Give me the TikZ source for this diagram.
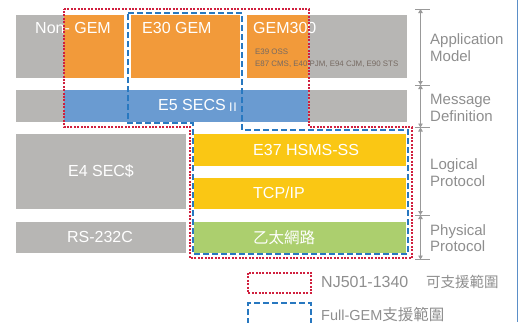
\documentclass[tikz,border=0pt]{standalone}
\usepackage{fontspec}
\setmainfont{Liberation Sans}
\newfontfamily\cjk{Noto Sans CJK TC}
\usetikzlibrary{arrows.meta}
\definecolor{boxgray}{HTML}{B7B6B4}
\definecolor{boxorange}{HTML}{F29A3A}
\definecolor{boxblue}{HTML}{6A9BD1}
\definecolor{boxyellow}{HTML}{FAC714}
\definecolor{boxgreen}{HTML}{ACCF6E}
\definecolor{njred}{HTML}{D0203E}
\definecolor{gemblue}{HTML}{2878C0}
\definecolor{labgray}{HTML}{8E8E8E}
\definecolor{smalltxt}{HTML}{766A62}
\definecolor{edgeblue}{HTML}{5B8FC8}
\tikzset{
  blk/.style={inner sep=0pt, outer sep=0pt, anchor=north west, draw=none},
  wtxt/.style={inner sep=0pt, text=white, font=\fontsize{16}{19}\selectfont},
  rtxt/.style={inner sep=0pt, anchor=base west, text=labgray, font=\fontsize{15}{17}\selectfont},
  smtxt/.style={inner sep=0pt, anchor=base west, text=smalltxt, font=\fontsize{7.9}{9}\selectfont},
  lgtxt/.style={inner sep=0pt, anchor=base west, text=labgray},
  njbox/.style={draw=njred, line width=1.3pt, dash pattern=on 2pt off 1.4pt},
  gembox/.style={draw=gemblue, line width=1.3pt, dash pattern=on 6pt off 3pt},
  brk/.style={draw=labgray!90, line width=0.9pt, {Triangle[length=4pt,width=4.5pt]}-{Triangle[length=4pt,width=4.5pt]}},
  tick/.style={draw=labgray!90, line width=0.9pt}
}
\begin{document}
\begin{tikzpicture}[x=1pt,y=-1pt]
\useasboundingbox (0,0) rectangle (519,322);
% row 1
\node[blk, fill=boxgray, minimum width=48pt, minimum height=63pt] (nggray) at (16,15) {};
\node[blk, fill=boxorange, minimum width=60pt, minimum height=63pt] (ngor) at (64,15) {};
\node[blk, fill=boxorange, minimum width=109pt, minimum height=63pt] (e30) at (131,15) {};
\node[blk, fill=boxgray, minimum width=160pt, minimum height=63pt] (g3gray) at (247,15) {};
\node[blk, fill=boxorange, minimum width=61pt, minimum height=63pt] (g3or) at (247,15) {};
% row 2
\node[blk, fill=boxgray, minimum width=391pt, minimum height=32pt] (msggray) at (16,90) {};
\node[blk, fill=boxblue, minimum width=244pt, minimum height=32pt] (msgblue) at (64,90) {};
% lower rows
\node[blk, fill=boxgray, minimum width=170pt, minimum height=75pt] (e4) at (16,134) {};
\node[blk, fill=boxgray, minimum width=170pt, minimum height=31pt] (rs) at (16,222) {};
\node[blk, fill=boxyellow, minimum width=212pt, minimum height=32pt] (e37) at (194,134) {};
\node[blk, fill=boxyellow, minimum width=212pt, minimum height=31pt] (tcp) at (194,178) {};
\node[blk, fill=boxgreen, minimum width=212pt, minimum height=31pt] (eth) at (194,222) {};
% texts in boxes
\node[wtxt, anchor=base west] (tng) at (35,33.3) {Non- GEM};
\node[wtxt, anchor=base west] (te30) at (142,33.3) {E30 GEM};
\node[wtxt, anchor=base west] (tg3) at (253,33.3) {GEM300};
\node[smtxt] (tsm1) at (255,54.3) {E39 OSS};
\node[smtxt] (tsm2) at (255,66.7) {E87 CMS, E40 PJM, E94 CJM, E90 STS};
\node[wtxt, anchor=base west] (te5) at (158,110) {E5 SECS};
\node[wtxt, anchor=base west, font=\fontsize{12.5}{14}\selectfont] (te5b) at (229,111.7) {I\kern0.6pt I};
\node[wtxt, anchor=base] (te4) at (101,176.5) {E4 SEC\$};
\node[wtxt, anchor=base] (trs) at (100,242.5) {RS-232C};
\node[wtxt, anchor=base west] (te37) at (253,155) {E37 HSMS-SS};
\node[wtxt, anchor=base west] (ttcp) at (253,198) {TCP/IP};
\node[wtxt, anchor=base west, font=\cjk\fontsize{15.5}{18}\selectfont] (teth) at (253,243) {乙太網路};
% support ranges
\draw[njbox] (64,9) -- (309,9) -- (309,127) -- (412,127) -- (412,258) -- (190,258) -- (190,127) -- (64,127) -- cycle;
\draw[gembox] (128,13) -- (242,13) -- (242,130) -- (408,130) -- (408,254) -- (193,254) -- (193,123) -- (128,123) -- cycle;
% right brackets
\coordinate (t0) at (420.5,9);
\coordinate (t1) at (420.5,85);
\coordinate (t2) at (420.5,127.5);
\coordinate (t3) at (420.5,215);
\coordinate (t4) at (420.5,259.5);
\foreach \t in {t0,t1,t2,t3,t4} {\draw[tick] ([xshift=-5.5pt]\t) -- ([xshift=9.5pt]\t);}
\draw[brk] (t0) -- (t1);
\draw[brk] (t1) -- (t2);
\draw[brk] (t2) -- (t3);
\draw[brk] (t3) -- (t4);
\node[rtxt] (la1) at (430,44) {Application};
\node[rtxt] (la2) at (430,61) {Model};
\node[rtxt] (lb1) at (430,104) {Message};
\node[rtxt] (lb2) at (430,121) {Definition};
\node[rtxt] (lc1) at (430,169) {Logical};
\node[rtxt] (lc2) at (430,186) {Protocol};
\node[rtxt] (ld1) at (430,235) {Physical};
\node[rtxt] (ld2) at (430,251.7) {Protocol};
% legend
\draw[njbox] (248,273) rectangle (311,293);
\draw[gembox] (248,324) -- (248,303) -- (311,303) -- (311,324);
\node[lgtxt] (lg1) at (321,287.7) {\makebox[105pt][l]{\fontsize{16}{19}\selectfont NJ501-1340}{\cjk\fontsize{14.5}{17}\selectfont 可支援範圍}};
\node[lgtxt] (lg2) at (321,320) {\fontsize{14.5}{17}\selectfont Full-GEM{\cjk\fontsize{15.5}{17}\selectfont 支援範圍}};
% right edge line
\draw[edgeblue, line width=0.8pt] (517.6,0) -- (517.6,322);
\end{tikzpicture}
\end{document}
